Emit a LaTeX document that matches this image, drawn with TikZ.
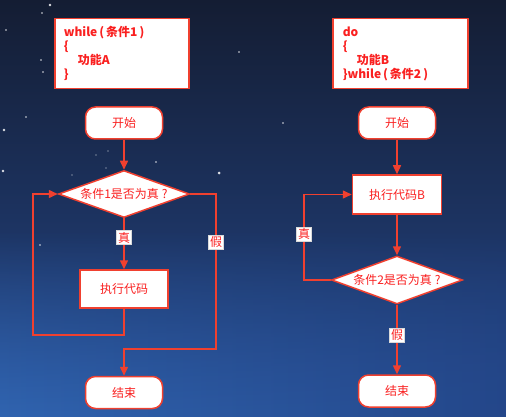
\documentclass[tikz,border=0pt]{standalone}
\usepackage{fontspec}
\setmainfont{Noto Sans CJK SC}
\usetikzlibrary{arrows.meta,shapes.geometric,fadings}
\definecolor{skytop}{HTML}{141D33}
\definecolor{skymid}{HTML}{1B2D54}
\definecolor{skybot}{HTML}{24478A}
\definecolor{skyglow}{HTML}{3064B0}
\definecolor{flowred}{HTML}{F0402F}
\definecolor{inkred}{HTML}{FA2020}

\begin{document}
\begin{tikzpicture}[x=1pt,y=-1pt,font=\fontsize{12}{14}\selectfont,
  flow/.style={draw=flowred,line width=1.5pt,fill=white,text=inkred},
  code/.style={flow,anchor=north west,align=left,minimum height=70pt,font=\fontsize{12}{14}\selectfont\bfseries},
  term/.style={flow,rounded corners=10pt,minimum width=77pt,minimum height=32pt},
  proc/.style={flow,minimum width=88pt,minimum height=38pt},
  test/.style={flow,diamond,aspect=2.85,inner sep=0pt,minimum width=131pt,minimum height=47pt},
  tag/.style={fill=white,draw=black!15,line width=0.4pt,text=inkred,inner sep=1.5pt},
  link/.style={flowred,line width=1.5pt},
  arrow/.style={link,-{Triangle[length=9pt,width=8pt]}}]
  \useasboundingbox (0,0) rectangle (506,417);
  \shade[top color=skytop,middle color=skymid,bottom color=skybot] (0,0) rectangle (506,417);
  \shade[left color=skyglow,right color=skybot,path fading=north] (0,230) rectangle (506,417);
  \foreach \sx/\sy/\sr in {50/5/1.4,42/13/0.8,6/30/0.8,41/60/0.8,43/72/0.8,26/117/0.8,4/130/1.4,
    3/171/1.4,239/52/0.8,283/123/0.8,219/173/1.5,96/155/0.7,108/151/0.7,156/162/0.8,
    106/168/0.7,72/175/0.7,40/245/0.8}
    \fill[white,opacity=0.85] (\sx,\sy) circle (\sr pt);

  \node[code,text width=116pt,inner xsep=9pt] (codeA) at (54,18)
    {while\,(\,条件1\,)\\\{\\\hspace*{14pt}功能A\\\}};
  \node[code,text width=115pt,inner xsep=10pt] (codeB) at (332,18)
    {do\\\{\\\hspace*{14pt}功能B\\\}while\,(\,条件2\,)};

  \node[term] (startA) at (124,123) {开始};
  \node[test] (condA) at (124,194) {条件1是否为真\hspace{3pt}?};
  \node[proc] (execA) at (124,289) {执行代码};
  \node[term] (endA) at (124,392.5) {结束};
  \coordinate (loopA) at (33,335);
  \coordinate (falseA) at (216,349);

  \node[term] (startB) at (397,123) {开始};
  \node[proc,minimum width=89pt,minimum height=39pt] (execB) at (397,194.5) {执行代码B};
  \node[test,minimum height=48pt] (condB) at (397,280) {条件2是否为真\hspace{3pt}?};
  \node[term] (endB) at (397,391) {结束};
  \coordinate (loopB) at (304,280);

  \draw[arrow] (startA) -- (condA);
  \draw[arrow] (condA) -- node[tag,pos=0.38] {真} (execA);
  \draw[arrow] (execA.south) |- (loopA) |- (condA.west);
  \draw[arrow] (condA.east) -| node[tag,pos=0.655] {假} (falseA) -| (endA.north);

  \draw[arrow] (startB) -- (execB);
  \draw[arrow] (execB) -- (condB);
  \draw[arrow] (condB) -- node[tag,pos=0.44] {假} (endB);
  \draw[arrow] (condB.west) -- (loopB) |- node[tag,pos=0.27] {真} (execB.west);
\end{tikzpicture}
\end{document}
